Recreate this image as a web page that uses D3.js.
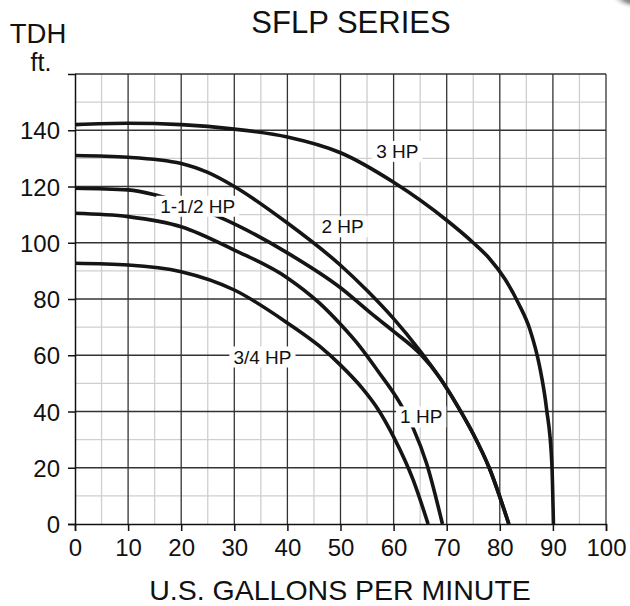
<!DOCTYPE html>
<html>
<head>
<meta charset="utf-8">
<script src="https://cdn.jsdelivr.net/npm/d3@7"></script>
<style>
  body { margin: 0; background: #fff; }
  svg { display: block; font-family: "Liberation Sans", Arial, sans-serif; }
</style>
</head>
<body>
<div id="chart"></div>
<script>
// pump curves, [gpm, ft of head]
const hp3 = [[0,142],[10,142.5],[20,142],[30,140.4],[40,137.6],[50,132],[60,121.5],[70,108],[75,100],[78,94.5],[81,87],[83.5,78.5],[85.7,69],[87.5,56],[88.8,41],[89.8,21.6],[90.1,0]];
const hp2 = [[0,131],[10,130.4],[20,128.2],[25,125],[30,120],[40,107],[50,92],[55,83],[60,73],[65,61.5],[68.7,52],[72.5,40.5],[75,32],[78,20],[81.7,0]];
const hp15 = [[0,119.4],[10,118.8],[15.7,116.7],[27,109.3],[40,96.4],[50,84],[56,74.5],[60,68.5],[65,60.5],[68.7,52],[72.5,40.5],[75,32],[78,20],[81.7,0]];
const hp1 = [[0,110.5],[10,109.3],[20,105.7],[30,97.4],[40,87.5],[46,78.6],[50,71],[53.7,63],[57,54.5],[61.2,43],[63.7,34],[66.2,21.6],[69.2,0]];
const hp075 = [[0,92.7],[10,92.1],[20,89.7],[30,83.2],[40,71.5],[46,63.3],[50,56.5],[54,48.5],[57,41],[60,31],[63.7,15.6],[66.5,0]];

const curves = [hp3, hp2, hp15, hp1, hp075];

// label text and where it sits (gpm, ft)
const labelText = ["3 HP", "2 HP", "1-1/2 HP", "1 HP", "3/4 HP"];
const labelGpm = [60.7, 50.4, 23.1, 65.2, 35.3];
const labelFt = [132.6, 105.8, 113.1, 38.2, 59.5];

const xTicks = [0,10,20,30,40,50,60,70,80,90,100];
const yTicks = [0,20,40,60,80,100,120,140];

const width = 630, height = 606;
const margin = {top: 74, right: 24, bottom: 82, left: 75};

const svg = d3.select("#chart").append("svg")
    .attr("width", width)
    .attr("height", height);

const x = d3.scaleLinear().domain([0, 100]).range([margin.left, width - margin.right]);
const y = d3.scaleLinear().domain([0, 160]).range([height - margin.bottom, margin.top]);

// page curl shadow in the corner
const defs = svg.append("defs");
const grad = defs.append("radialGradient").attr("id", "curl");
grad.append("stop").attr("offset", "0%").attr("stop-color", "#444");
grad.append("stop").attr("offset", "60%").attr("stop-color", "#999");
grad.append("stop").attr("offset", "100%").attr("stop-color", "#fff").attr("stop-opacity", 0);
svg.append("ellipse")
    .attr("cx", 640).attr("cy", -4)
    .attr("rx", 30).attr("ry", 14)
    .attr("fill", "url(#curl)");

// grid
const grid = svg.append("g");
grid.selectAll(".vminor")
  .data(d3.range(5, 100, 10))
  .join("line")
    .attr("x1", d => x(d)).attr("x2", d => x(d))
    .attr("y1", y(0)).attr("y2", y(160))
    .attr("stroke", "#cfcfcf").attr("stroke-width", 1.3);
grid.selectAll(".hminor")
  .data(d3.range(10, 160, 20))
  .join("line")
    .attr("x1", x(0)).attr("x2", x(100))
    .attr("y1", d => y(d)).attr("y2", d => y(d))
    .attr("stroke", "#cfcfcf").attr("stroke-width", 1.3);
grid.selectAll(".vmajor")
  .data(d3.range(10, 110, 10))
  .join("line")
    .attr("x1", d => x(d)).attr("x2", d => x(d))
    .attr("y1", y(0)).attr("y2", y(160))
    .attr("stroke", "#333").attr("stroke-width", 1.3);
grid.selectAll(".hmajor")
  .data(d3.range(20, 180, 20))
  .join("line")
    .attr("x1", x(0)).attr("x2", x(100))
    .attr("y1", d => y(d)).attr("y2", d => y(d))
    .attr("stroke", "#333").attr("stroke-width", 1.3);

// axes
const xAxis = svg.append("g")
    .attr("transform", `translate(0,${y(0)})`)
    .call(d3.axisBottom(x).tickValues(xTicks).tickSize(7).tickPadding(6));
const yAxis = svg.append("g")
    .attr("transform", `translate(${x(0)},0)`)
    .call(d3.axisLeft(y).tickValues(yTicks).tickSize(7).tickPadding(8));
[xAxis, yAxis].forEach(a => {
  a.select(".domain").attr("stroke", "#111").attr("stroke-width", 1.5);
  a.selectAll(".tick line").attr("stroke", "#111").attr("stroke-width", 1.5);
  a.selectAll(".tick text")
    .attr("font-family", "'Liberation Sans', Arial, sans-serif")
    .attr("font-size", 24).attr("fill", "#111");
});
yAxis.selectAll(".tick text").attr("dy", "0.36em");
xAxis.selectAll(".tick text").attr("dy", "0.8em");

// curves
const line = d3.line()
    .x(d => x(d[0]))
    .y(d => y(d[1]))
    .curve(d3.curveMonotoneX);

svg.append("g")
  .selectAll("path")
  .data(curves)
  .join("path")
    .attr("d", line)
    .attr("fill", "none")
    .attr("stroke", "#151515")
    .attr("stroke-width", 3.6)
    .attr("stroke-linecap", "butt");

// curve labels on white boxes
const lab = svg.append("g").selectAll("g")
  .data(labelText)
  .join("g")
    .attr("transform", (d, i) => `translate(${x(labelGpm[i])},${y(labelFt[i])})`);
lab.append("text")
    .attr("text-anchor", "middle")
    .attr("dy", "0.36em")
    .attr("font-size", 19)
    .attr("fill", "#111")
    .text(d => d);
lab.each(function() {
  const g = d3.select(this);
  const bb = g.select("text").node().getBBox();
  g.insert("rect", "text")
    .attr("x", bb.x - 4).attr("y", bb.y)
    .attr("width", bb.width + 8).attr("height", bb.height)
    .attr("fill", "#fff");
});

// titles
svg.append("text")
    .attr("x", 351).attr("y", 33)
    .attr("text-anchor", "middle")
    .attr("font-size", 31)
    .attr("fill", "#111")
    .text("SFLP SERIES");
svg.append("text")
    .attr("x", 38).attr("y", 43)
    .attr("text-anchor", "middle")
    .attr("font-size", 27.5)
    .attr("fill", "#111")
    .text("TDH");
svg.append("text")
    .attr("x", 41).attr("y", 71)
    .attr("text-anchor", "middle")
    .attr("font-size", 25)
    .attr("fill", "#111")
    .text("ft.");
svg.append("text")
    .attr("x", 340).attr("y", 600)
    .attr("text-anchor", "middle")
    .attr("font-size", 28.5)
    .attr("fill", "#111")
    .text("U.S. GALLONS PER MINUTE");
</script>
</body>
</html>
